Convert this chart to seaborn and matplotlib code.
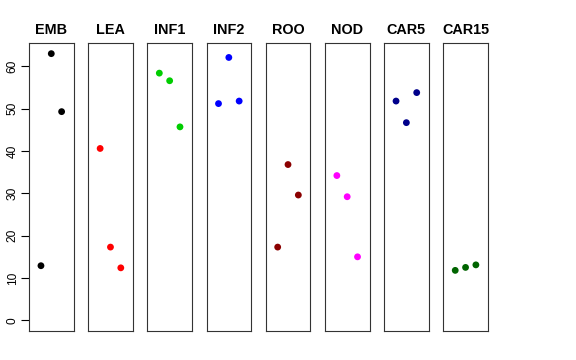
import matplotlib
matplotlib.use("Agg")
from matplotlib import pyplot as plt
import seaborn as sns
import pandas as pd

tissues = ["EMB", "LEA", "INF1", "INF2", "ROO", "NOD", "CAR5", "CAR15"]
colors = ["#000000", "#FF0000", "#00CD00", "#0000FF", "#8B0000", "#FF00FF", "#00008B", "#006400"]
reps = [1, 2, 3]
emb = [12.9, 63.0, 49.3]
lea = [40.6, 17.3, 12.4]
inf1 = [58.4, 56.6, 45.7]
inf2 = [51.2, 62.1, 51.8]
roo = [17.3, 36.8, 29.6]
nod = [34.2, 29.2, 15.0]
car5 = [51.8, 46.7, 53.8]
car15 = [11.8, 12.5, 13.1]
values = [emb, lea, inf1, inf2, roo, nod, car5, car15]

rows = []
for t, v in zip(tissues, values):
    for r, y in zip(reps, v):
        rows.append({"tissue": t, "rep": r, "value": y})
df = pd.DataFrame(rows)

sns.set_style("white")
plt.rcParams['font.family'] = ['Liberation Sans', 'DejaVu Sans']
plt.rcParams['text.color'] = 'black'
plt.rcParams['ytick.color'] = 'black'
plt.rcParams['axes.labelcolor'] = 'black'

fig, axs = plt.subplots(1, 8, figsize=(5.76, 3.6), dpi=100, sharey=True)
fig.subplots_adjust(left=0.0503, right=0.847, top=0.8806, bottom=0.0806, wspace=0.326)

for i, (ax, t, c) in enumerate(zip(axs, tissues, colors)):
    sub = df[df["tissue"] == t]
    sns.scatterplot(ax=ax, data=sub, x="rep", y="value", color=c, s=24, edgecolor="none", linewidth=0)
    ax.set_xlim(-0.16, 4.16)
    ax.set_ylim(-2.52, 65.52)
    ax.set_title(t, fontsize=10.4, fontweight="bold", pad=6.5, color="black")
    ax.set_xlabel("")
    ax.set_ylabel("")
    ax.set_xticks([])
    for sp in ax.spines.values():
        sp.set_visible(True)
        sp.set_color("#333333")
        sp.set_linewidth(0.8)
    if i == 0:
        ax.set_yticks([0, 10, 20, 30, 40, 50, 60])
        ax.tick_params(axis="y", left=True, length=5.5, width=0.8, color="black",
                       labelcolor="black", labelsize=8.6, pad=2)
        for lab in ax.get_yticklabels():
            lab.set_rotation(90)
            lab.set_va("center")
    else:
        ax.tick_params(axis="y", left=False, labelleft=False)

plt.savefig("out.png", dpi=100)
